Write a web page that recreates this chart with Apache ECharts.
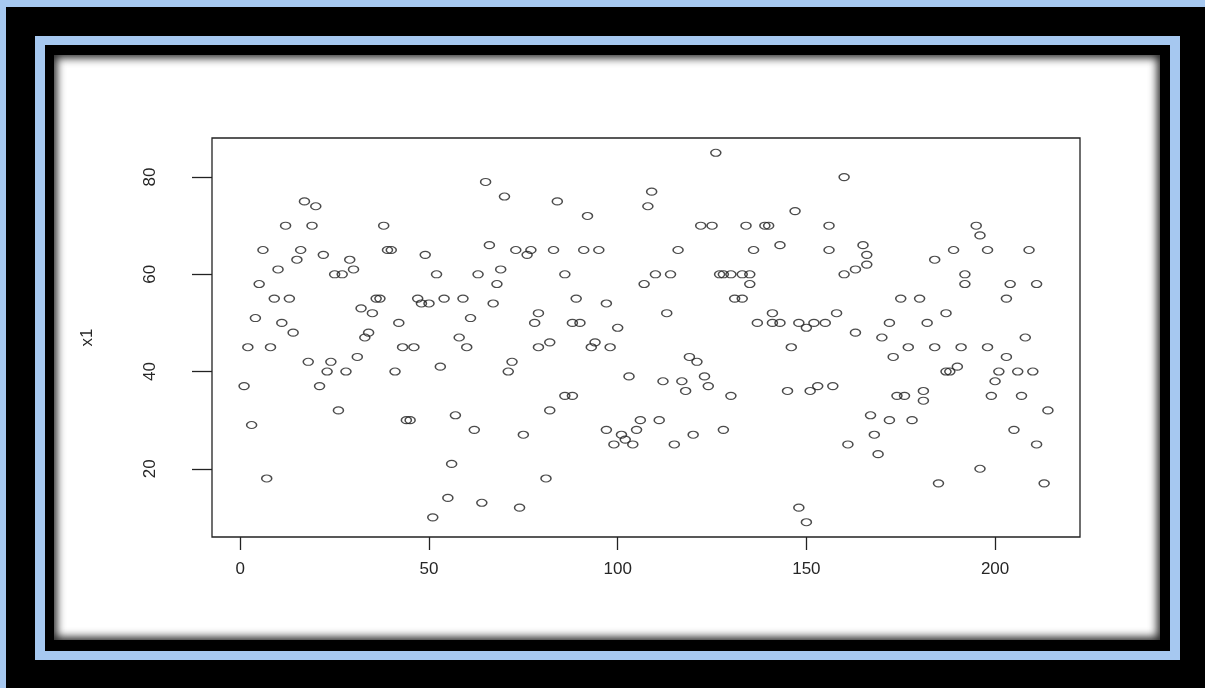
<!DOCTYPE html>
<html>
<head>
<meta charset="utf-8">
<title>x1</title>
<script src="https://cdn.jsdelivr.net/npm/echarts@6/dist/echarts.min.js"></script>
<style>
    html, body { margin: 0; padding: 0; background: #000; }
    #page { position: relative; width: 1205px; height: 688px; overflow: hidden; background: #000; }
    .strip-top { position: absolute; left: 0; top: 0; width: 1205px; height: 7px; background: #a6c8f0; }
    .strip-left { position: absolute; left: 0; top: 0; width: 6px; height: 688px; background: #a6c8f0; }
    .blue { position: absolute; left: 35px; top: 36px; width: 1145px; height: 624px; background: #a6c8f0; }
    .inner { position: absolute; left: 45px; top: 45px; width: 1125px; height: 606px; background: #000; }
    .paper { position: absolute; left: 54px; top: 55px; width: 1106px; height: 585px; background: #fff;
             box-shadow: inset 0 0 9px 3px rgba(0, 0, 0, 0.85); }
    #chart { position: absolute; left: 0; top: 0; width: 1205px; height: 688px; }
</style>
</head>
<body>
<div id="page">
    <div class="strip-top"></div>
    <div class="strip-left"></div>
    <div class="blue"></div>
    <div class="inner"></div>
    <div class="paper"></div>
    <div id="chart"></div>
</div>
<script>
// index (x) and x1 value (y) of every point
const idx = [
    1, 2, 3, 4, 5, 6, 7, 8, 9, 10,
    11, 12, 13, 14, 15, 16, 17, 18, 19, 20,
    21, 22, 23, 24, 25, 26, 27, 28, 29, 30,
    31, 32, 33, 34, 35, 36, 37, 38, 39, 40,
    41, 42, 43, 44, 45, 46, 47, 48, 49, 50,
    51, 52, 53, 54, 55, 56, 57, 58, 59, 60,
    61, 62, 63, 64, 65, 66, 67, 68, 69, 70,
    71, 72, 73, 74, 75, 76, 77, 78, 79,
    79, 81, 82, 82, 83, 84, 86, 86, 88, 88,
    89, 90, 91, 92, 93, 94, 95, 97, 97, 98,
    99, 100, 101, 102, 103, 104, 105, 106, 107,
    108, 109, 110, 111, 112, 113, 114, 115, 116, 117,
    118, 119, 120, 121, 122, 123, 124, 125, 126, 127,
    128, 128, 130, 130, 131, 133, 133, 134, 135, 135,
    136, 137, 139, 140, 141, 141, 143, 143, 145, 146,
    147, 148, 148, 150, 150, 151, 152, 153, 155, 156,
    156, 157, 158, 160, 160, 161, 163, 163,
    165, 166, 166, 167, 168, 169, 170, 172, 172, 173,
    174, 175, 176, 177, 178, 180, 181, 181, 182, 184,
    184, 185, 187, 187, 188, 189, 190, 191, 192, 192,
    195, 196, 196, 198, 198, 199, 200, 201, 203, 203,
    204, 205, 206, 207, 208, 209, 210, 211, 211, 213, 214
];
const x1 = [
    37, 45, 29, 51, 58, 65, 18, 45, 55, 61,
    50, 70, 55, 48, 63, 65, 75, 42, 70, 74,
    37, 64, 40, 42, 60, 32, 60, 40, 63, 61,
    43, 53, 47, 48, 52, 55, 55, 70, 65, 65,
    40, 50, 45, 30, 30, 45, 55, 54, 64, 54,
    10, 60, 41, 55, 14, 21, 31, 47, 55, 45,
    51, 28, 60, 13, 79, 66, 54, 58, 61, 76,
    40, 42, 65, 12, 27, 64, 65, 50, 52,
    45, 18, 46, 32, 65, 75, 35, 60, 50, 35,
    55, 50, 65, 72, 45, 46, 65, 28, 54, 45,
    25, 49, 27, 26, 39, 25, 28, 30, 58,
    74, 77, 60, 30, 38, 52, 60, 25, 65, 38,
    36, 43, 27, 42, 70, 39, 37, 70, 85, 60,
    28, 60, 35, 60, 55, 60, 55, 70, 58, 60,
    65, 50, 70, 70, 50, 52, 50, 66, 36, 45,
    73, 12, 50, 9, 49, 36, 50, 37, 50, 70,
    65, 37, 52, 80, 60, 25, 61, 48,
    66, 64, 62, 31, 27, 23, 47, 50, 30, 43,
    35, 55, 35, 45, 30, 55, 36, 34, 50, 63,
    45, 17, 52, 40, 40, 65, 41, 45, 58, 60,
    70, 20, 68, 65, 45, 35, 38, 40, 43, 55,
    58, 28, 40, 35, 47, 65, 40, 58, 25, 17, 32
];
const xTicks = [0, 50, 100, 150, 200];
const yTicks = [20, 40, 60, 80];

let points = idx.map((v, i) => [v, x1[i]]);

let myChart = echarts.init(document.getElementById('chart'), null, { renderer: 'canvas' });
let labelFont = {
    color: '#262626',
    fontSize: 17,
    fontFamily: 'Liberation Sans, Arial, sans-serif'
};
myChart.setOption({
    backgroundColor: 'transparent',
    animation: false,
    grid: {
        left: 212,
        top: 138,
        width: 868,
        height: 399,
        show: true,
        borderColor: '#222',
        borderWidth: 1.3,
        backgroundColor: 'transparent'
    },
    xAxis: {
        type: 'value',
        min: -7.5,
        max: 222.5,
        // 轴线不跟着 0 走，刻度贴着外框
        axisLine: { show: false, onZero: false },
        splitLine: { show: false },
        axisTick: {
            show: true,
            length: 13,
            customValues: xTicks,
            lineStyle: { color: '#222', width: 1.3 }
        },
        axisLabel: Object.assign({
            margin: 24,
            customValues: xTicks
        }, labelFont)
    },
    yAxis: {
        type: 'value',
        min: 5.96,
        max: 88.04,
        name: 'x1',
        nameLocation: 'middle',
        nameRotate: 90,
        nameGap: 116,
        nameTextStyle: labelFont,
        axisLine: { show: false, onZero: false },
        splitLine: { show: false },
        axisTick: {
            show: true,
            length: 20,
            customValues: yTicks,
            lineStyle: { color: '#222', width: 1.3 }
        },
        axisLabel: Object.assign({
            margin: 53,
            rotate: 90,
            customValues: yTicks
        }, labelFont)
    },
    series: [{
        name: 'x1',
        type: 'scatter',
        // 空心圆，重叠处能看到两条边
        symbol: 'circle',
        symbolSize: [10, 7],
        itemStyle: {
            color: 'rgba(0,0,0,0)',
            borderColor: '#1e1e1e',
            borderWidth: 1.3
        },
        data: points
    }]
});
</script>
</body>
</html>
